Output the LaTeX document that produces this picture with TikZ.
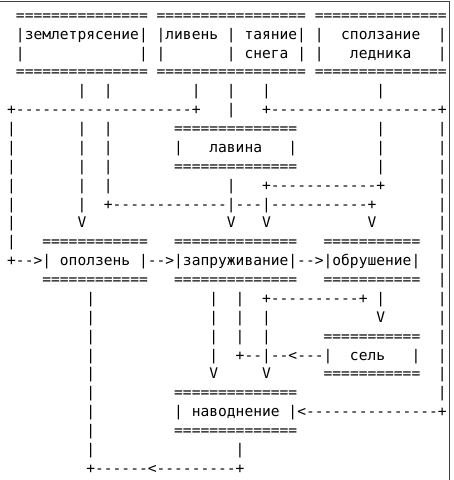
\documentclass[tikz,border=0pt]{standalone}
\usepackage{fontspec}
\setmonofont{DejaVu Sans Mono}
\tikzset{asciirow/.style={anchor=base west,inner sep=0pt,outer sep=0pt,font=\ttfamily\fontsize{14.6}{18.9}\selectfont}}
\begin{document}
\begin{tikzpicture} [x=1pt,y=-1pt]
    \useasboundingbox (0,0) rectangle (454,480);
    \draw[line width=1pt,black!75] (0,1.7)--(449.5,1.7)--(449.5,480);
    \node[asciirow] (row1) at (7.2,20.3) {~===============~=================~===============};
    \node[asciirow] (row2) at (7.2,39.2) {~|землетрясение|~|ливень~|~таяние|~|~~сползание~~|};
    \node[asciirow] (row3) at (7.2,58.1) {~|~~~~~~~~~~~~~|~|~~~~~~~|~снега~|~|~~~ледника~~~|};
    \node[asciirow] (row4) at (7.2,76.9) {~===============~=================~===============};
    \node[asciirow] (row5) at (7.2,95.8) {~~~~~~~~|~~|~~~~~~~~~|~~~|~~~|~~~~~~~~~~~~|};
    \node[asciirow] (row6) at (7.2,114.7) {+--------------------+~~~|~~~+-------------------+};
    \node[asciirow] (row7) at (7.2,133.6) {|~~~~~~~|~~|~~~~~~~==============~~~~~~~~~|~~~~~~|};
    \node[asciirow] (row8) at (7.2,152.4) {|~~~~~~~|~~|~~~~~~~|~~~лавина~~~|~~~~~~~~~|~~~~~~|};
    \node[asciirow] (row9) at (7.2,171.3) {|~~~~~~~|~~|~~~~~~~==============~~~~~~~~~|~~~~~~|};
    \node[asciirow] (row10) at (7.2,190.2) {|~~~~~~~|~~|~~~~~~~~~~~~~|~~~+------------+~~~~~~|};
    \node[asciirow] (row11) at (7.2,209.1) {|~~~~~~~|~~+-------------|---|-----------+~~~~~~~|};
    \node[asciirow] (row12) at (7.2,227.9) {|~~~~~~~V~~~~~~~~~~~~~~~~V~~~V~~~~~~~~~~~V~~~~~~~|};
    \node[asciirow] (row13) at (7.2,246.8) {|~~~============~~~==============~~~===========~~|};
    \node[asciirow] (row14) at (7.2,265.7) {+-->|~оползень~|-->|запруживание|-->|обрушение|~~|};
    \node[asciirow] (row15) at (7.2,284.6) {~~~~============~~~==============~~~===========~~|};
    \node[asciirow] (row16) at (7.2,303.4) {~~~~~~~~~|~~~~~~~~~~~~~|~~|~~+----------+~|~~~~~~|};
    \node[asciirow] (row17) at (7.2,322.3) {~~~~~~~~~|~~~~~~~~~~~~~|~~|~~|~~~~~~~~~~~~V~~~~~~|};
    \node[asciirow] (row18) at (7.2,341.2) {~~~~~~~~~|~~~~~~~~~~~~~|~~|~~|~~~~~~===========~~|};
    \node[asciirow] (row19) at (7.2,360.1) {~~~~~~~~~|~~~~~~~~~~~~~|~~+--|--<---|~~сель~~~|~~|};
    \node[asciirow] (row20) at (7.2,378.9) {~~~~~~~~~|~~~~~~~~~~~~~V~~~~~V~~~~~~===========~~|};
    \node[asciirow] (row21) at (7.2,397.8) {~~~~~~~~~|~~~~~~~~~==============~~~~~~~~~~~~~~~~|};
    \node[asciirow] (row22) at (7.2,416.7) {~~~~~~~~~|~~~~~~~~~|~наводнение~|<---------------+};
    \node[asciirow] (row23) at (7.2,435.6) {~~~~~~~~~|~~~~~~~~~==============};
    \node[asciirow] (row24) at (7.2,454.4) {~~~~~~~~~|~~~~~~~~~~~~~~~~|};
    \node[asciirow] (row25) at (7.2,473.3) {~~~~~~~~~+------<---------+};
\end{tikzpicture}
\end{document}
